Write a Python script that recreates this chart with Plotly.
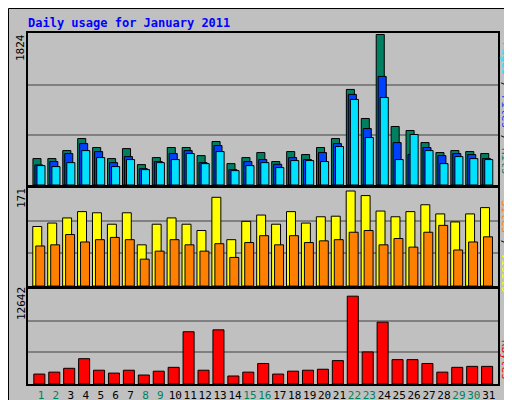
import plotly.graph_objects as go

days = list(range(1, 32))
weekend = [1, 2, 8, 9, 15, 16, 22, 23, 29, 30]
hits = [320,320,417,563,454,320,441,247,332,454,454,356,527,259,332,393,284,405,369,454,563,1158,806,1824,709,660,514,393,417,405,381]
files = [243,284,381,502,405,271,344,198,284,381,417,271,478,186,284,308,251,332,308,393,502,1098,684,1316,514,369,454,356,381,369,320]
pages = [235,223,271,417,332,223,308,186,271,308,381,259,405,174,235,271,211,296,296,284,466,1037,575,1061,308,612,417,259,344,320,308]
visits = [104,110,119,130,128,108,128,72,108,119,108,97,155,81,113,124,108,130,110,121,122,166,158,131,121,130,142,126,112,126,137]
sites = [70,72,90,77,81,85,81,47,61,81,72,61,74,50,76,88,72,88,76,79,81,94,97,72,83,68,94,106,63,77,86]
kbytes = [1320,1576,2087,3365,1832,1448,1832,1193,1704,2215,6944,1832,7200,1065,1576,2726,1320,1704,1832,1960,3110,11672,4260,8222,3238,3238,2726,1576,2215,2343,2343]
max_hits, max_visits, max_kb = 1824, 171, 12642

fig = go.Figure()
def bar(y, color, off, w, ax):
    fig.add_trace(go.Bar(x=days, y=y, offset=off, width=w, marker=dict(color=color, line=dict(color="black", width=1)),
                         xaxis="x" + ax, yaxis="y" + ax, showlegend=False, hoverinfo="skip"))
bar(hits, "#008060", -0.54, 0.54, "")
bar(files, "#0040ff", -0.41, 0.54, "")
bar(pages, "#00e0ff", -0.27, 0.54, "")
bar(visits, "#ffff00", -0.55, 0.6, "2")
bar(sites, "#ff8000", -0.35, 0.6, "2")
bar(kbytes, "#ff0000", -0.48, 0.74, "3")
fig.update_traces(xaxis="x", selector=dict(xaxis="x"))

rng = [0.13, 31.62]
tt = [f"<span style='color:{'#008060' if d in weekend else 'black'}'>{d}</span>" for d in days]
ax_common = dict(range=rng, showgrid=False, showline=True, mirror=True, linecolor="black", linewidth=2,
                 zeroline=False, fixedrange=True, automargin=False)
yc = dict(showticklabels=False, ticks="", gridcolor="#808080", gridwidth=1.5, showline=True, mirror=True,
          linecolor="black", linewidth=2, zeroline=False, automargin=False)
fig.update_layout(
    width=512, height=400, margin=dict(l=20, r=22, t=25, b=24, autoexpand=False),
    paper_bgcolor="#c0c0c0", plot_bgcolor="#c0c0c0", barmode="overlay",
    font=dict(family="DejaVu Sans Mono", size=11, color="black"),
    xaxis=dict(**ax_common, anchor="y", showticklabels=False, ticks=""),
    xaxis2=dict(**ax_common, anchor="y2", showticklabels=False, ticks="", matches="x"),
    xaxis3=dict(**ax_common, anchor="y3", tickvals=days, ticktext=tt, ticks="", tickangle=0,
                tickfont=dict(size=11, family="DejaVu Sans Mono"), matches="x"),
    yaxis=dict(**yc, domain=[0.567, 1], range=[0, max_hits * 1.01], tickvals=[max_hits/3, 2*max_hits/3]),
    yaxis2=dict(**yc, domain=[0.279, 0.558], range=[0, max_visits], tickvals=[max_visits/3, 2*max_visits/3]),
    yaxis3=dict(**yc, domain=[0, 0.271], range=[0, max_kb], tickvals=[max_kb/3, 2*max_kb/3]),
)
def px(x): return (x - 20) / 470
def py(y): return (376 - y) / 351
ann = [
    dict(text="<b>Daily usage for January 2011</b>", x=px(18), y=py(15), font=dict(color="#0000ff", size=12), xanchor="left"),
    dict(text="1824", x=px(13), y=py(40), textangle=-90),
    dict(text="171", x=px(13), y=py(190), textangle=-90),
    dict(text="12642", x=px(13), y=py(296), textangle=-90),
    dict(text="<span style='color:#00e0ff'>Pages</span> / <span style='color:#0040ff'>Files</span> / <span style='color:#008060'>Hits</span>", x=px(498), y=py(100), textangle=90),
    dict(text="<span style='color:#ff8000'>Sites</span> / <span style='color:#ffff00'>Visits</span>", x=px(498), y=py(238), textangle=90),
    dict(text="<span style='color:#ff0000'>KBytes</span>", x=px(498), y=py(352), textangle=90),
]
for a in ann:
    a.setdefault("xanchor", "center")
    a.update(xref="paper", yref="paper", showarrow=False, yanchor="middle")
    fig.add_annotation(**a)
fig.add_shape(type="rect", xref="paper", yref="paper", x0=px(505), x1=px(513), y0=py(401), y1=py(-1), fillcolor="#808080", line_width=0, layer="below")
fig.add_shape(type="rect", xref="paper", yref="paper", x0=px(0), x1=px(512), y0=py(396), y1=py(400), fillcolor="#808080", line_width=0, layer="below")
fig.add_shape(type="rect", xref="paper", yref="paper", x0=px(0.5), x1=px(511.5), y0=py(399.5), y1=py(0.5), line=dict(color="black", width=1), layer="below")
fig.write_html("out.html")
